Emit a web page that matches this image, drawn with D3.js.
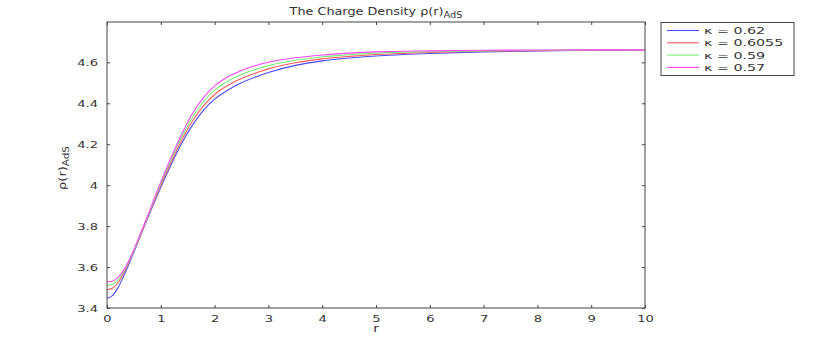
<!DOCTYPE html>
<html><head><meta charset="utf-8">
<script src="https://cdn.jsdelivr.net/npm/d3@7"></script>
<style>
body{margin:0;background:#fff;}
text{font-family:"DejaVu Sans",sans-serif;fill:#333;}
</style></head>
<body><svg id="c" width="830" height="339"></svg>
<script>
const rValues   = [0,0.1,0.2,0.3,0.4,0.5,0.6,0.7,0.8,0.9,1.0,1.2,1.4,1.6,1.8,2.0,2.25,2.5,2.75,3.0,3.5,4.0,4.5,5,6,7,8,9,10];
const kappa062  = [3.447,3.46,3.497,3.55,3.61,3.673,3.738,3.803,3.866,3.928,3.99,4.105,4.21,4.298,4.368,4.42,4.465,4.5,4.527,4.55,4.585,4.607,4.621,4.631,4.643,4.651,4.656,4.659,4.66];
const kappa0605 = [3.489,3.496,3.522,3.565,3.619,3.678,3.742,3.807,3.871,3.936,3.999,4.117,4.226,4.318,4.39,4.443,4.488,4.521,4.547,4.568,4.598,4.617,4.629,4.638,4.648,4.654,4.657,4.66,4.66];
const kappa059  = [3.51,3.515,3.535,3.573,3.623,3.681,3.746,3.811,3.875,3.943,4.007,4.129,4.241,4.337,4.41,4.464,4.509,4.541,4.565,4.584,4.61,4.627,4.637,4.645,4.652,4.656,4.659,4.66,4.661];
const kappa057  = [3.528,3.531,3.548,3.58,3.628,3.685,3.75,3.815,3.88,3.95,4.015,4.14,4.255,4.355,4.43,4.485,4.53,4.56,4.583,4.60,4.622,4.636,4.645,4.651,4.656,4.659,4.66,4.661,4.661];
const seriesNames = ["κ = 0.62","κ = 0.6055","κ = 0.59","κ = 0.57"];
const seriesColors = ["#4a4aff","#ff5a5a","#77ee77","#ff44ff"];
const xTicks = [0,1,2,3,4,5,6,7,8,9,10];
const yTicks = [3.4,3.6,3.8,4.0,4.2,4.4,4.6];

const seriesVals = [kappa062,kappa0605,kappa059,kappa057];
const svg = d3.select("#c");
const L=107,R=645,T=22,B=308;
const x = d3.scaleLinear().domain([0,10]).range([L,R]);
const y = d3.scaleLinear().domain([3.4,4.797]).range([B,T]);
const axisCol="#444";
const SX=1.38;

// curves
const line = d3.line().x(d=>x(d[0])).y(d=>y(d[1])).curve(d3.curveMonotoneX);
seriesVals.forEach((vals,i)=>{
  svg.append("path").datum(rValues.map((r,j)=>[r,vals[j]]))
    .attr("d",line).attr("fill","none").attr("stroke",seriesColors[i]).attr("stroke-width",1.1);
});

// axes
const ax = d3.axisBottom(x).tickValues(xTicks).tickSize(-3).tickPadding(7).tickFormat(d3.format("d"));
const ay = d3.axisLeft(y).tickValues(yTicks).tickSize(-3).tickPadding(9).tickFormat(d=>d===4?"4":d3.format(".1f")(d));
const axTop = d3.axisTop(x).tickValues(xTicks).tickSize(-3).tickFormat("");
const ayR = d3.axisRight(y).tickValues(yTicks).tickSize(-3).tickFormat("");
function style(g){g.select(".domain").remove();g.selectAll("line").attr("stroke",axisCol);g.selectAll("text").attr("font-size","9.5px").attr("fill","#333");}
const gx = svg.append("g").attr("transform",`translate(0,${B})`).call(ax).call(style);
gx.selectAll("text").attr("transform",`scale(${SX},1)`);
const gy = svg.append("g").attr("transform",`translate(${L},0)`).call(ay).call(style);
gy.selectAll("text").attr("x",-9/SX).attr("transform",`scale(${SX},1)`);
svg.append("g").attr("transform",`translate(0,${T})`).call(axTop).call(style);
svg.append("g").attr("transform",`translate(${R},0)`).call(ayR).call(style);
svg.append("rect").attr("x",L).attr("y",T).attr("width",R-L).attr("height",B-T)
  .attr("fill","none").attr("stroke",axisCol).attr("stroke-width",1);

// title
const t = svg.append("text").attr("transform","translate(376,14.5) scale(1.22,1)").attr("text-anchor","middle").attr("font-size","10.5px");
t.append("tspan").text("The Charge Density ρ(r)");
t.append("tspan").attr("font-size","8px").attr("dy",3).text("AdS");
// x label
svg.append("text").attr("transform",`translate(376,332) scale(${SX},1)`).attr("text-anchor","middle").attr("font-size","10px").text("r");
// y label
const yl = svg.append("text").attr("transform","translate(66,168) rotate(-90) scale(1.3,1)").attr("text-anchor","middle").attr("font-size","10px");
yl.append("tspan").text("ρ(r)");
yl.append("tspan").attr("font-size","8px").attr("dy",3).text("AdS");

// legend
const lg = svg.append("g");
lg.append("rect").attr("x",661).attr("y",22.5).attr("width",133).attr("height",53).attr("fill","#fff").attr("stroke",axisCol);
seriesNames.forEach((n,i)=>{
  const yy = 30.5+i*12.3;
  lg.append("line").attr("x1",667).attr("x2",699).attr("y1",yy).attr("y2",yy).attr("stroke",seriesColors[i]).attr("stroke-width",1.1);
  lg.append("text").attr("transform",`translate(704,${yy+3.5}) scale(1.5,1)`).attr("font-size","9.5px").text(n);
});
</script></body></html>
